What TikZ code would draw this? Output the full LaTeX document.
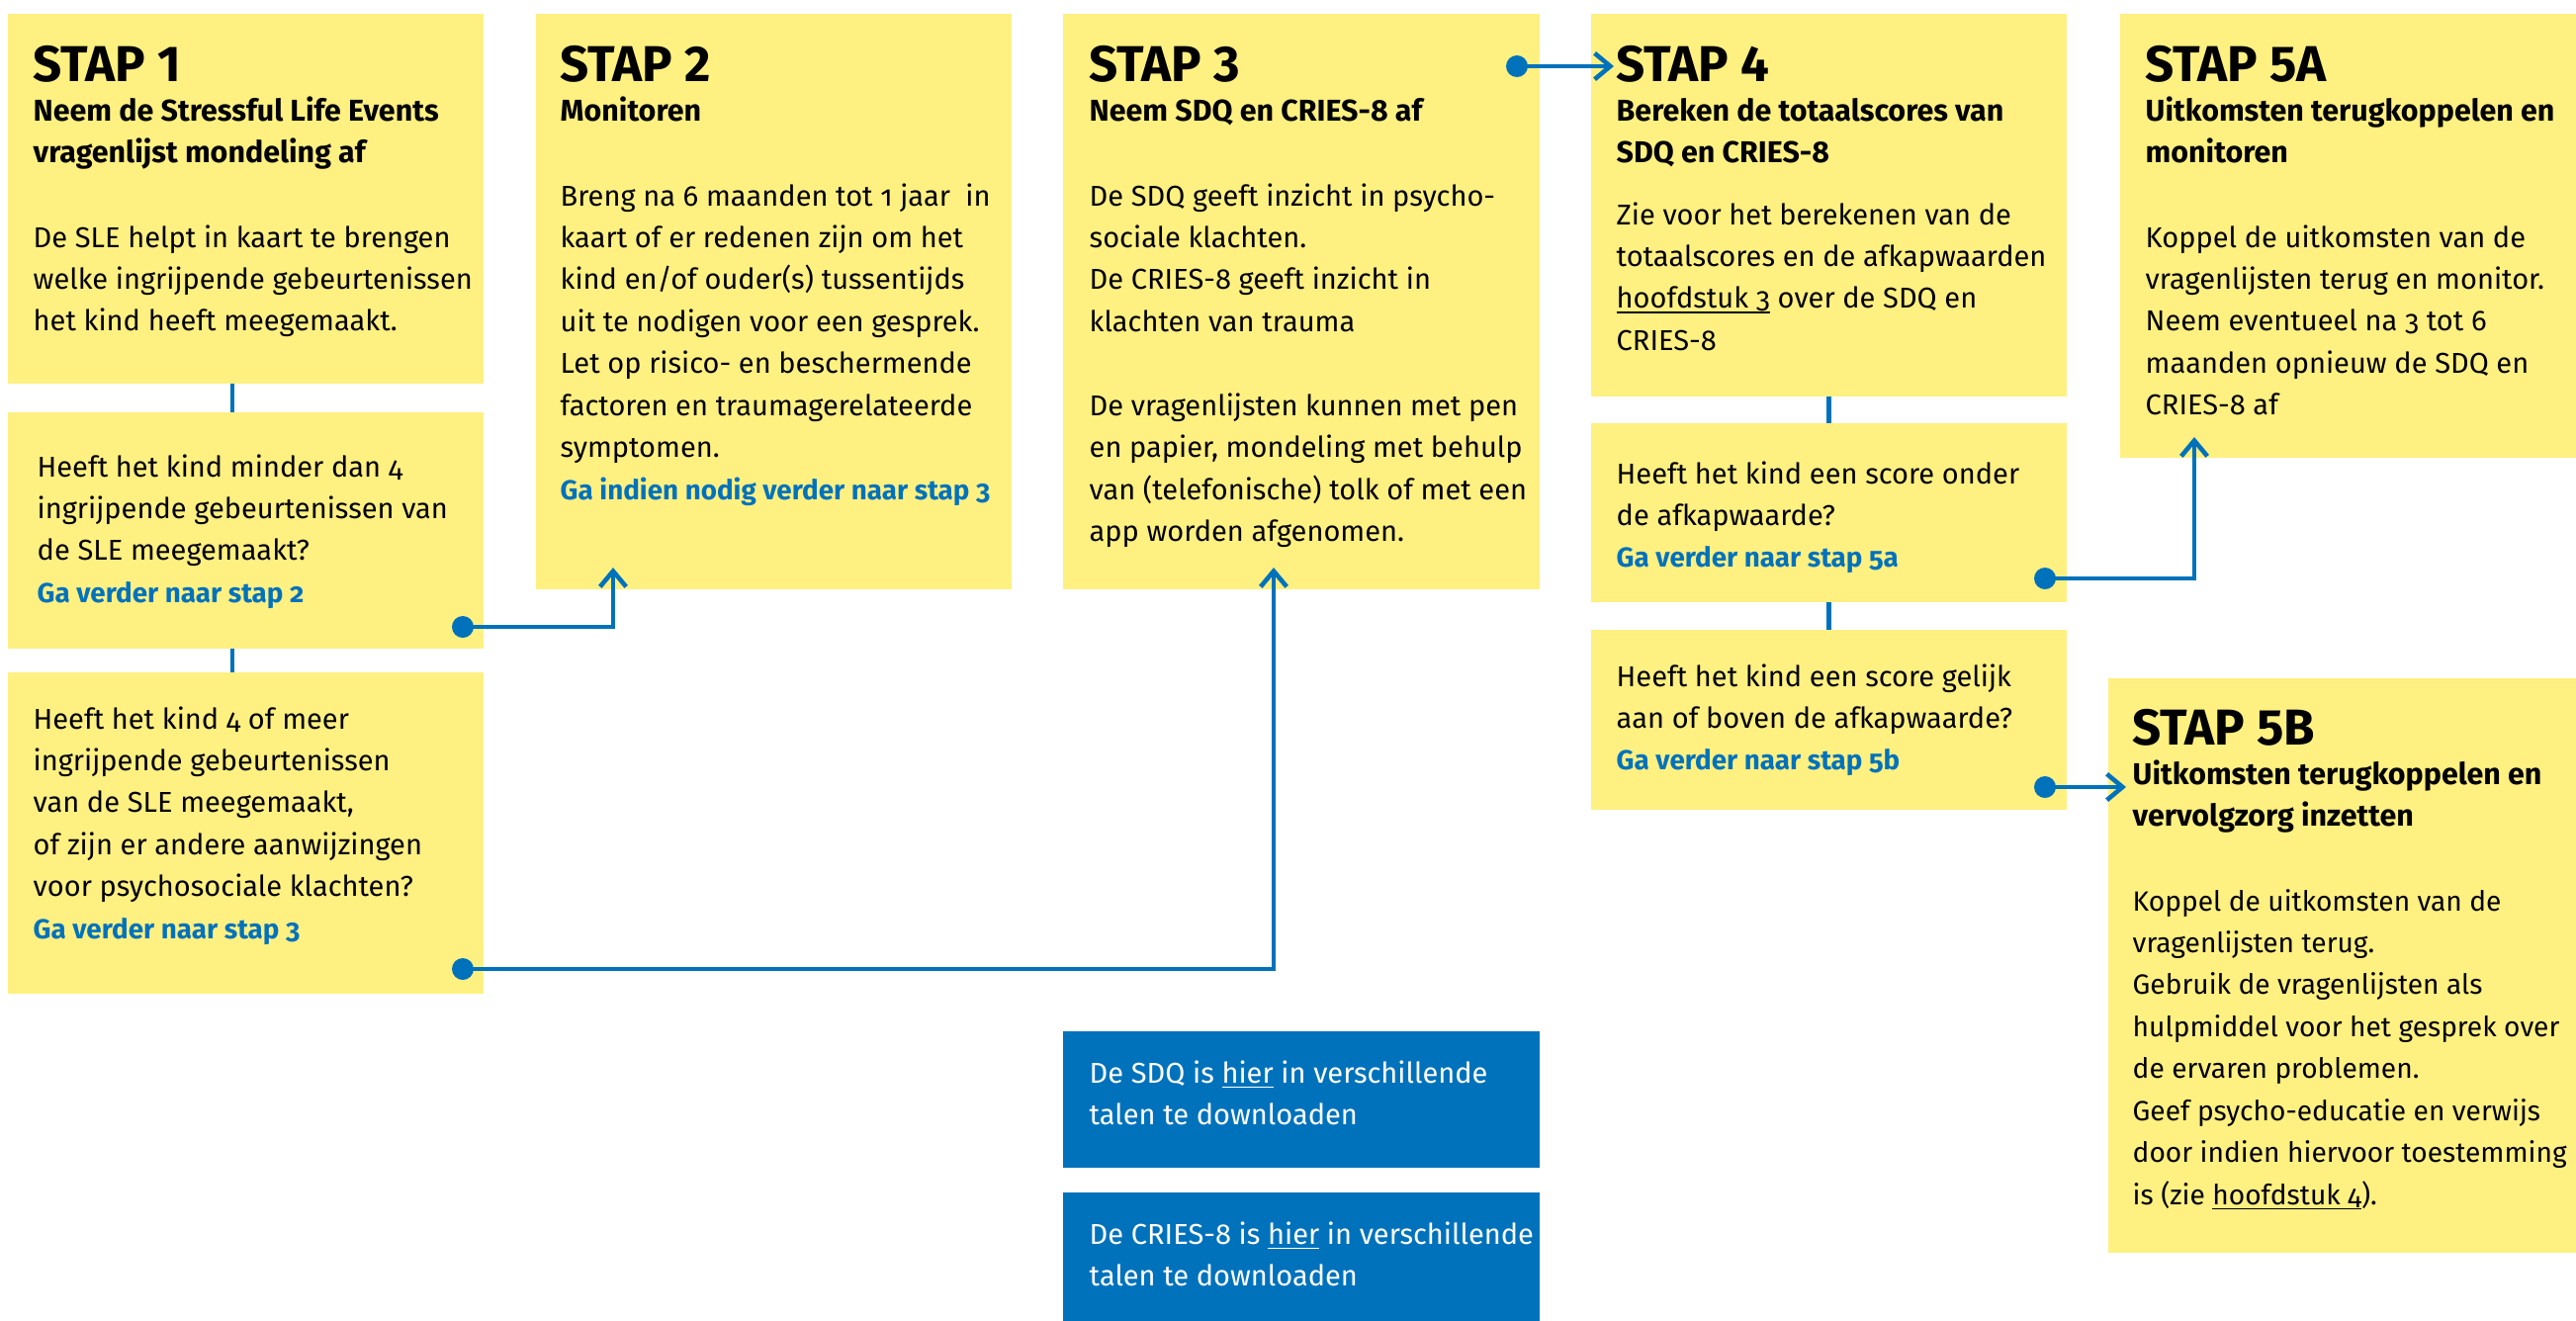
\documentclass[tikz,border=0pt]{standalone}
\usepackage{fontspec}
\setmainfont{Fira Sans}[Numbers=OldStyle]
\newfontfamily\headfont{Fira Sans}[Numbers=Lining]
\usetikzlibrary{arrows.meta,calc}
\definecolor{ryel}{HTML}{FFF082}
\definecolor{rblue}{HTML}{0072BC}
\newcommand\myul[1]{\leavevmode\setbox0\hbox{#1}\rlap{\rule[-1.4pt]{\wd0}{0.4pt}}\box0\relax}
\newcommand\bodyblk[2][8.25]{\parbox[t]{6cm}{\fontsize{#1}{12.07}\selectfont\raggedright #2}}
\newcommand\subblk[1]{\parbox[t]{6cm}{\bfseries\fontsize{8.65}{12.07}\selectfont\raggedright #1}}
\newcommand\goto[1]{{\bfseries\fontsize{7.9}{12.07}\selectfont\color{rblue}#1}}
\tikzset{
  ybox/.style={fill=ryel, draw=none, anchor=north west, inner sep=0pt, outer sep=0pt},
  bbox/.style={fill=rblue, draw=none, anchor=north west, inner sep=0pt, outer sep=0pt},
  head/.style={anchor=base west, inner sep=0pt, font=\headfont\bfseries\fontsize{14.5}{17}\selectfont},
  txt/.style={anchor=base west, inner sep=0pt},
  conn/.style={draw=rblue, line width=1.3pt},
  arr/.style={conn, -{Straight Barb[length=4.5pt,width=7.5pt]}},
  dot/.style={fill=rblue}
}
\begin{document}
\begin{tikzpicture}[x=0.01cm, y=-0.01cm]
\useasboundingbox (0,0) rectangle (2605,1336);
% boxes
\node[ybox, minimum width=4.81cm, minimum height=3.74cm] (s1) at (8,14) {};
\node[ybox, minimum width=4.81cm, minimum height=2.39cm] (s1b) at (8,417) {};
\node[ybox, minimum width=4.81cm, minimum height=3.25cm] (s1c) at (8,680) {};
\node[ybox, minimum width=4.81cm, minimum height=5.82cm] (s2) at (542,14) {};
\node[ybox, minimum width=4.82cm, minimum height=5.82cm] (s3) at (1075,14) {};
\node[ybox, minimum width=4.81cm, minimum height=3.87cm] (s4) at (1609,14) {};
\node[ybox, minimum width=4.81cm, minimum height=1.81cm] (s4b) at (1609,428) {};
\node[ybox, minimum width=4.81cm, minimum height=1.82cm] (s4c) at (1609,637) {};
\node[ybox, minimum width=4.61cm, minimum height=4.49cm] (s5a) at (2144,14) {};
\node[ybox, minimum width=4.73cm, minimum height=5.81cm] (s5b) at (2132,686) {};
\node[bbox, minimum width=4.82cm, minimum height=1.38cm] (b1) at (1075,1043) {};
\node[bbox, minimum width=4.82cm, minimum height=1.30cm] (b2) at (1075,1206) {};

% texts box 1
\node[head] (h1) at (33,82) {STAP 1};
\node[txt] (u1) at (33,122) {\subblk{Neem de Stressful Life Events\\vragenlijst mondeling af}};
\node[txt] (t1) at (33,250) {\bodyblk{De SLE helpt in kaart te brengen\\welke ingrijpende gebeurtenissen\\het kind heeft meegemaakt.}};
\node[txt] (t1b) at (37,482) {\bodyblk{Heeft het kind minder dan 4\\ingrijpende gebeurtenissen van\\de SLE meegemaakt?\\\goto{Ga verder naar stap 2}}};
\node[txt] (t1c) at (33,737) {\bodyblk{Heeft het kind 4 of meer\\ingrijpende gebeurtenissen\\van de SLE meegemaakt,\\of zijn er andere aanwijzingen\\voor psychosociale klachten?\\\goto{Ga verder naar stap 3}}};
% box 2
\node[head] (h2) at (566,82) {STAP 2};
\node[txt] (u2) at (566,122) {\subblk{Monitoren}};
\node[txt] (t2) at (566,208) {\bodyblk{Breng na 6 maanden tot 1 jaar~ in\\kaart of er redenen zijn om het\\kind en/of ouder(s) tussentijds\\uit te nodigen voor een gesprek.\\Let op risico- en beschermende\\factoren en traumagerelateerde\\symptomen.\\\goto{Ga indien nodig verder naar stap 3}}};
% box 3
\node[head] (h3) at (1101,82) {STAP 3};
\node[txt] (u3) at (1101,122) {\subblk{Neem SDQ en CRIES-8 af}};
\node[txt] (t3) at (1101,208) {\bodyblk{De SDQ geeft inzicht in psycho-\\sociale klachten.\\De CRIES-8 geeft inzicht in\\klachten van trauma\\[12.07pt]De vragenlijsten kunnen met pen\\en papier, mondeling met behulp\\van (telefonische) tolk of met een\\app worden afgenomen.}};
% box 4
\node[head] (h4) at (1634,82) {STAP 4};
\node[txt] (u4) at (1634,122) {\subblk{Bereken de totaalscores van\\SDQ en CRIES-8}};
\node[txt] (t4) at (1634,227) {\bodyblk{Zie voor het berekenen van de\\totaalscores en de afkapwaarden\\\myul{hoofdstuk 3} over de SDQ en\\CRIES-8}};
\node[txt] (t4b) at (1634,489) {\bodyblk{Heeft het kind een score onder\\de afkapwaarde?\\\goto{Ga verder naar stap 5a}}};
\node[txt] (t4c) at (1634,694) {\bodyblk{Heeft het kind een score gelijk\\aan of boven de afkapwaarde?\\\goto{Ga verder naar stap 5b}}};
% box 5a
\node[head] (h5a) at (2169,82) {STAP 5A};
\node[txt] (u5a) at (2169,122) {\subblk{Uitkomsten terugkoppelen en\\monitoren}};
\node[txt] (t5a) at (2169,250) {\bodyblk{Koppel de uitkomsten van de\\vragenlijsten terug en monitor.\\Neem eventueel na 3 tot 6\\maanden opnieuw de SDQ en\\CRIES-8 af}};
% box 5b
\node[head] (h5b) at (2156,753) {STAP 5B};
\node[txt] (u5b) at (2156,793) {\subblk{Uitkomsten terugkoppelen en\\vervolgzorg inzetten}};
\node[txt] (t5b) at (2156,921) {\bodyblk[8.0]{Koppel de uitkomsten van de\\vragenlijsten terug.\\Gebruik de vragenlijsten als\\hulpmiddel voor het gesprek over\\de ervaren problemen.\\Geef psycho-educatie en verwijs\\door indien hiervoor toestemming\\is (zie \myul{hoofdstuk 4}).}};
% blue boxes
\node[txt, text=white] (tb1) at (1101,1095) {\bodyblk{De SDQ is \myul{hier} in verschillende\\talen te downloaden}};
\node[txt, text=white] (tb2) at (1101,1258) {\bodyblk{De CRIES-8 is \myul{hier} in verschillende\\talen te downloaden}};

% vertical links
\draw[conn] ($(s1.south west)+(227,0)$) -- ($(s1b.north west)+(227,0)$);
\draw[conn] ($(s1b.south west)+(227,0)$) -- ($(s1c.north west)+(227,0)$);
\draw[conn] (s4.south) -- (s4b.north);
\draw[conn] (s4b.south) -- (s4c.north);

% connectors with dots
\coordinate (d1b) at (468,634);
\coordinate (e2) at (620,574);
\coordinate (d1c) at (468,980);
\coordinate (e3) at (1288,574);
\coordinate (d3) at (1534,67);
\coordinate (e4) at (1632,67);
\coordinate (d4b) at (2068,585);
\coordinate (e5a) at (2219,442);
\coordinate (d4c) at (2068,796);
\coordinate (e5b) at (2150,796);
\draw[arr] (d1b) -| (e2);
\draw[arr] (d1c) -| (e3);
\draw[arr] (d3) -- (e4);
\draw[arr] (d4b) -| (e5a);
\draw[arr] (d4c) -- (e5b);
\foreach \d in {d1b,d1c,d3,d4b,d4c} \fill[dot] (\d) circle (11);
\end{tikzpicture}
\end{document}
